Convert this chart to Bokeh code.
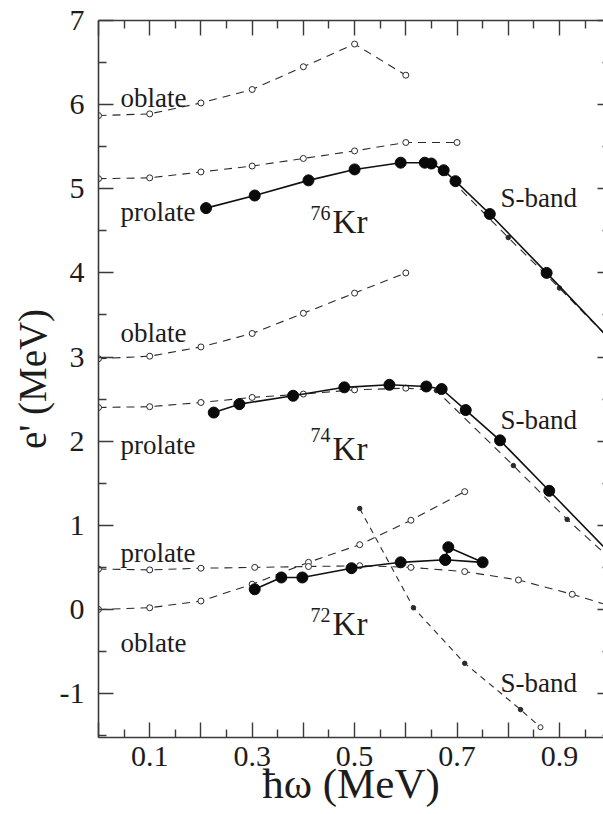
from bokeh.plotting import figure
from bokeh.models import FixedTicker, LinearAxis, Range1d
from bokeh.embed import file_html
from bokeh.resources import INLINE
from bokeh.core.properties import value

# ---------------- data ----------------
# 76Kr
kr76_oblate_x = [0.0, 0.1, 0.2, 0.3, 0.4, 0.5, 0.6]
kr76_oblate_y = [5.87, 5.89, 6.02, 6.18, 6.45, 6.72, 6.35]
kr76_prolate_x = [0.0, 0.1, 0.2, 0.3, 0.4, 0.5, 0.6, 0.7]
kr76_prolate_y = [5.12, 5.13, 5.20, 5.27, 5.36, 5.45, 5.55, 5.55]
kr76_sband_x = [0.67, 0.80, 0.90, 1.0]
kr76_sband_y = [5.22, 4.42, 3.82, 3.20]
kr76_exp_x = [0.21, 0.305, 0.41, 0.50, 0.59, 0.637, 0.65, 0.674, 0.697, 0.764, 0.875, 1.0]
kr76_exp_y = [4.77, 4.92, 5.10, 5.23, 5.31, 5.31, 5.30, 5.22, 5.09, 4.70, 4.00, 3.20]

# 74Kr
kr74_oblate_x = [0.0, 0.1, 0.2, 0.3, 0.4, 0.5, 0.6]
kr74_oblate_y = [2.98, 3.01, 3.12, 3.28, 3.52, 3.76, 4.00]
kr74_prolate_x = [0.0, 0.1, 0.2, 0.3, 0.4, 0.5, 0.6]
kr74_prolate_y = [2.40, 2.41, 2.46, 2.52, 2.56, 2.61, 2.63]
kr74_sband_x = [0.6, 0.66, 0.81, 0.915, 1.0]
kr74_sband_y = [2.63, 2.60, 1.71, 1.07, 0.60]
kr74_exp_x = [0.225, 0.275, 0.38, 0.48, 0.568, 0.64, 0.67, 0.717, 0.784, 0.88, 1.0]
kr74_exp_y = [2.34, 2.44, 2.54, 2.64, 2.67, 2.65, 2.62, 2.37, 2.01, 1.41, 0.66]

# 72Kr
kr72_oblate_x = [0.0, 0.1, 0.2, 0.3, 0.41, 0.51, 0.61, 0.715]
kr72_oblate_y = [0.0, 0.02, 0.10, 0.30, 0.56, 0.77, 1.06, 1.40]
kr72_prolate_x = [0.0, 0.1, 0.2, 0.305, 0.41, 0.51, 0.61, 0.715, 0.82, 0.925, 1.0]
kr72_prolate_y = [0.48, 0.47, 0.49, 0.50, 0.51, 0.52, 0.50, 0.45, 0.35, 0.18, 0.04]
kr72_sband_x = [0.51, 0.615, 0.715, 0.824, 0.863]
kr72_sband_y = [1.20, 0.02, -0.64, -1.19, -1.40]
kr72_exp_x = [0.305, 0.357, 0.398, 0.494, 0.59, 0.677, 0.683, 0.75, 0.677]
kr72_exp_y = [0.24, 0.38, 0.38, 0.49, 0.56, 0.59, 0.74, 0.56, 0.59]

# ticks
x_ticks = [0.0, 0.1, 0.2, 0.3, 0.4, 0.5, 0.6, 0.7, 0.8, 0.9, 1.0]
x_minor = [0.05, 0.15, 0.25, 0.35, 0.45, 0.55, 0.65, 0.75, 0.85, 0.95]
x_labels = {0.0: "", 0.2: "", 0.4: "", 0.6: "", 0.8: "", 1.0: ""}
y_ticks = [-1, 0, 1, 2, 3, 4, 5, 6, 7]
y_minor = [-1.5, -0.5, 0.5, 1.5, 2.5, 3.5, 4.5, 5.5, 6.5]
y_labels = {-1: "-1"}

# text annotations
shape_labels = ["oblate", "prolate", "oblate", "prolate", "prolate", "oblate"]
band_labels = ["S-band", "S-band", "S-band"]
mass_labels = ["76", "74", "72"]

SERIF = value("Liberation Serif")
INK = "#1c1c1c"
LINE = "#2a2a2a"

p = figure(width=603, height=814, output_backend="svg", toolbar_location=None,
           x_range=Range1d(0, 0.986), y_range=Range1d(-1.522, 7.0),
           min_border_left=98, min_border_right=0, min_border_top=20,
           min_border_bottom=77, outline_line_color=None,
           background_fill_color="white", border_fill_color="white")
p.grid.visible = False

# ---------------- axes ----------------
xt = FixedTicker(ticks=x_ticks, minor_ticks=x_minor)
yt = FixedTicker(ticks=y_ticks, minor_ticks=y_minor)

def style_axis(ax, show_labels):
    ax.axis_line_color = "#3a3a3a"
    ax.axis_line_width = 1.6
    ax.major_tick_line_color = "#3a3a3a"
    ax.minor_tick_line_color = "#3a3a3a"
    ax.major_tick_line_width = 1.4
    ax.minor_tick_line_width = 1.4
    ax.major_tick_in = 15
    ax.major_tick_out = 0
    ax.minor_tick_in = 8
    ax.minor_tick_out = 0
    if show_labels:
        ax.major_label_text_font = "Liberation Serif"
        ax.major_label_text_font_size = "30px"
        ax.major_label_text_color = INK
        ax.axis_label_text_font = "Liberation Serif"
        ax.axis_label_text_font_style = "normal"
        ax.axis_label_text_color = INK
    else:
        ax.major_label_text_font_size = "0px"
        ax.major_label_text_color = None
        ax.major_label_standoff = 0
        ax.axis_label_standoff = 0

xa = p.xaxis[0]
xa.ticker = xt
xa.major_label_overrides = x_labels
style_axis(xa, True)
xa.major_label_standoff = 9
xa.axis_label = "ħω (MeV)"
xa.axis_label_text_font_size = "43px"
xa.axis_label_standoff = -9

ya = p.yaxis[0]
ya.ticker = yt
ya.major_label_overrides = y_labels
style_axis(ya, True)
ya.major_label_standoff = 14
ya.axis_label = "e' (MeV)"
ya.axis_label_text_font_size = "39px"
ya.axis_label_standoff = 3

top = LinearAxis(ticker=xt)
style_axis(top, False)
p.add_layout(top, "above")

right = LinearAxis(ticker=yt)
style_axis(right, False)
right.axis_line_color = None
right.major_tick_in = 6
right.minor_tick_in = 1
p.add_layout(right, "right")

# ---------------- curves ----------------
DASH = "8 6"

# S-band dashed lines with small dots
for xs, ys in [(kr76_sband_x, kr76_sband_y), (kr74_sband_x, kr74_sband_y)]:
    p.line(xs, ys, line_color=LINE, line_width=1.1, line_dash=DASH)
    p.scatter(xs, ys, size=4.5, fill_color=LINE, line_color=LINE)
p.line(kr72_sband_x, kr72_sband_y, line_color=LINE, line_width=1.1, line_dash="6 5")
p.scatter(kr72_sband_x[:-1], kr72_sband_y[:-1], size=4.5, fill_color=LINE, line_color=LINE)
p.scatter(kr72_sband_x[-1:], kr72_sband_y[-1:], size=5, fill_color="white", line_color=LINE)

# mean-field oblate / prolate dashed curves with open circles
for xs, ys in [(kr76_oblate_x, kr76_oblate_y), (kr76_prolate_x, kr76_prolate_y),
               (kr74_oblate_x, kr74_oblate_y), (kr74_prolate_x, kr74_prolate_y),
               (kr72_oblate_x, kr72_oblate_y), (kr72_prolate_x, kr72_prolate_y)]:
    p.line(xs, ys, line_color=LINE, line_width=1.1, line_dash=DASH)
    p.scatter(xs, ys, size=6, fill_color="white", line_color=LINE, line_width=1)

# experimental solid curves with big filled dots
for xs, ys in [(kr76_exp_x, kr76_exp_y), (kr74_exp_x, kr74_exp_y), (kr72_exp_x, kr72_exp_y)]:
    p.line(xs, ys, line_color="#111111", line_width=1.6)
    p.scatter(xs, ys, size=11, fill_color="#0a0a0a", line_color="#0a0a0a")

# ---------------- texts ----------------
p.text(x=[0.043, 0.043, 0.043, 0.043, 0.043, 0.043],
       y=[6.08, 4.72, 3.28, 1.95, 0.67, -0.40],
       text=shape_labels, text_font=SERIF, text_font_size="27px",
       text_color=INK, text_align="left", text_baseline="alphabetic")
p.text(x=[0.785, 0.785, 0.785], y=[4.89, 2.25, -0.87],
       text=band_labels, text_font=SERIF, text_font_size="27px",
       text_color=INK, text_align="left", text_baseline="alphabetic")
p.text(x=[0.414, 0.414, 0.414], y=[4.71, 2.07, -0.07],
       text=mass_labels, text_font=SERIF, text_font_size="20px",
       text_color=INK, text_align="left", text_baseline="alphabetic")
p.text(x=[0.457, 0.457, 0.457], y=[4.60, 1.91, -0.17],
       text=["Kr", "Kr", "Kr"], text_font=SERIF, text_font_size="33px",
       text_color=INK, text_align="left", text_baseline="alphabetic")

open("out.html", "w").write(file_html(p, INLINE))
